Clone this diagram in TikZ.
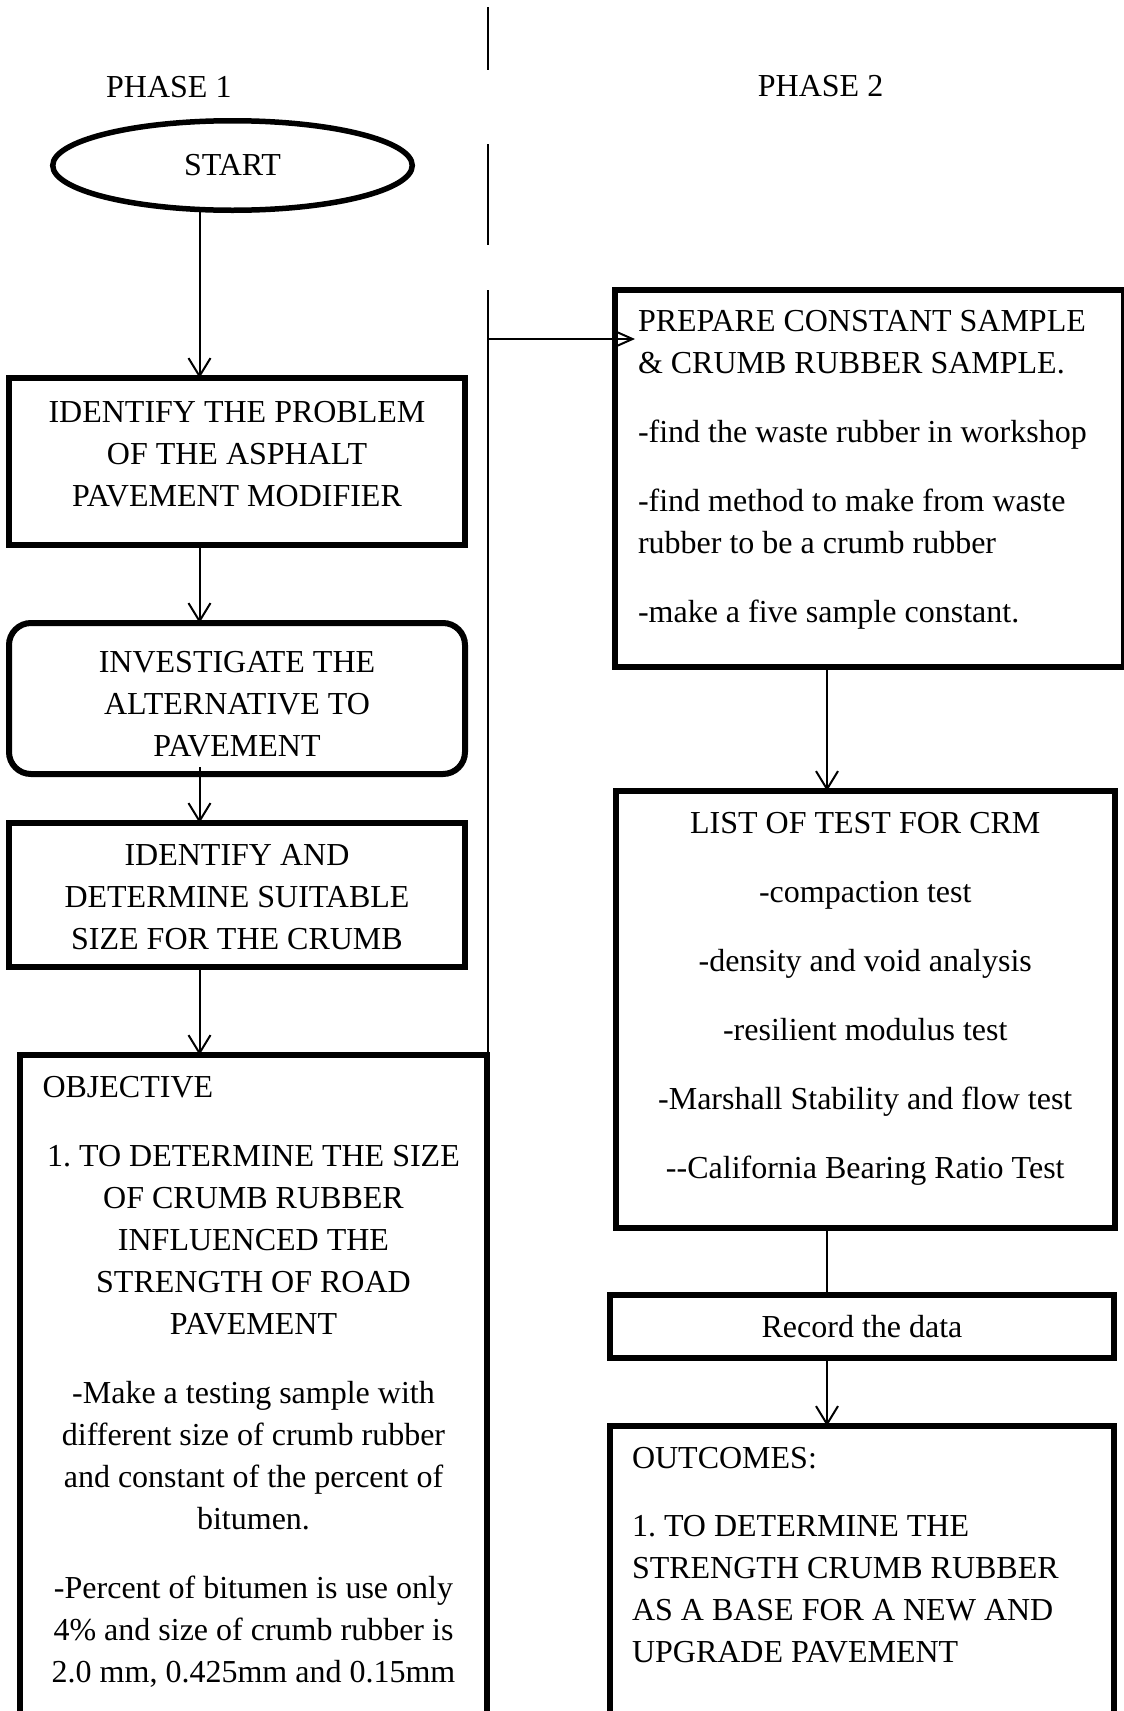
\documentclass[tikz,border=0pt]{standalone}
\usepackage{fontspec}
\setmainfont{Liberation Serif}
\usetikzlibrary{shapes.geometric,arrows.meta,calc}
\frenchspacing
\begin{document}
\begin{tikzpicture}[x=1pt,y=-1pt,
  txt/.style={font=\fontsize{32}{42}\selectfont\frenchspacing},
  box/.style={txt, draw, line width=6pt, rectangle, inner ysep=0pt, inner xsep=0pt, outer sep=0pt, anchor=north west},
  conn/.style={line width=2pt},
  arr/.style={-{Straight Barb[length=18pt,width=22pt]}},
  arrh/.style={-{Straight Barb[length=18pt,width=16pt]}}]
\useasboundingbox (0,0) rectangle (1124,1711);
\clip (0,0) rectangle (1124,1711);

% phase labels
\node[txt, anchor=base west, inner sep=0pt] (ph1) at (106,97) {PHASE 1};
\node[txt, anchor=base west, inner sep=0pt] (ph2) at (757.7,96.7) {PHASE 2};

% start
\node[txt, draw, ellipse, line width=5.5pt, inner sep=0pt, outer sep=0pt,
      minimum width=359.5pt, minimum height=89.5pt] (start) at (232.5,165.5) {\raisebox{2pt}{START}};

% phase 1 boxes
\node[box] (b1) at (9,378) {\parbox[c][167pt][t]{456pt}{\centering\rule{0pt}{44pt}IDENTIFY THE PROBLEM\\OF THE ASPHALT\\PAVEMENT MODIFIER}};
\node[box, rounded corners=22pt] (b2) at (9,623) {\parbox[c][151pt][t]{456pt}{\centering\rule{0pt}{49pt}INVESTIGATE THE\\ALTERNATIVE TO\\PAVEMENT}};
\node[box] (b3) at (9,823) {\parbox[c][144pt][t]{456pt}{\centering\rule{0pt}{42pt}IDENTIFY AND\\DETERMINE SUITABLE\\SIZE FOR THE CRUMB}};
\node[box] (obj) at (20,1055) {\parbox[c][680pt][t]{467pt}{\raggedright\rule{0pt}{42pt}\hspace*{22.5pt}OBJECTIVE\par\vspace{27pt}\centering 1. TO DETERMINE THE SIZE\\OF CRUMB RUBBER\\INFLUENCED THE\\STRENGTH OF ROAD\\PAVEMENT\\[27pt]-Make a testing sample with\\different size of crumb rubber\\and constant of the percent of\\bitumen.\\[27pt]-Percent of bitumen is use only\\4\% and size of crumb rubber is\\2.0 mm, 0.425mm and 0.15mm\par}};

% phase 2 boxes
\node[box, inner xsep=23pt] (prep) at (615,290) {\parbox[c][377pt][t]{463pt}{\raggedright\rule{0pt}{41.7pt}PREPARE CONSTANT SAMPLE\\\&\ CRUMB RUBBER SAMPLE.\\[27pt]-find the waste rubber in workshop\\[27pt]-find method to make from waste\\rubber to be a crumb rubber\\[27pt]-make a five sample constant.\par}};
\node[box] (list) at (616,791) {\parbox[c][437pt][t]{498.5pt}{\centering\rule{0pt}{42pt}LIST OF TEST FOR CRM\\[27pt]-compaction test\\[27pt]-density and void analysis\\[27pt]-resilient modulus test\\[27pt]-Marshall Stability and flow test\\[27pt]-{}-California Bearing Ratio Test\par}};
\node[box] (rec) at (610,1295) {\parbox[c][63pt][t]{504pt}{\centering\rule{0pt}{42pt}Record the data\par}};
\node[box, inner xsep=22pt] (out) at (610,1426) {\parbox[c][300pt][t]{460pt}{\raggedright\rule{0pt}{42pt}OUTCOMES:\\[26pt]1. TO DETERMINE THE\\STRENGTH CRUMB RUBBER\\AS A BASE FOR A NEW AND\\UPGRADE PAVEMENT\par}};

% divider
\coordinate (d1a) at (488,7);
\coordinate (d1b) at (488,70);
\coordinate (d2a) at (488,144);
\coordinate (d2b) at (488,245);
\coordinate (d3a) at (488,290);
\coordinate (jn) at (488,339);
\draw[conn] (d1a) -- (d1b);
\draw[conn] (d2a) -- (d2b);
\draw[conn] (d3a) -- (d3a |- obj.north);

% column axes
\coordinate (axL) at (199.5,0);
\coordinate (axR) at (827,0);

% connectors
\draw[conn,arr] (start.south -| axL) -- (b1.north -| axL);
\draw[conn,arr] (b1.south -| axL) -- (b2.north -| axL);
\draw[conn,arr] ($(b2.south -| axL)+(0,-7)$) -- (b3.north -| axL);
\draw[conn,arr] (b3.south -| axL) -- (obj.north -| axL);
\draw[conn,arrh] (jn) -- ($(jn -| prep.west)+(20,0)$);
\draw[conn,arr] (prep.south -| axR) -- (list.north -| axR);
\draw[conn] (list.south -| axR) -- (rec.north -| axR);
\draw[conn,arr] (rec.south -| axR) -- (out.north -| axR);
\end{tikzpicture}
\end{document}
